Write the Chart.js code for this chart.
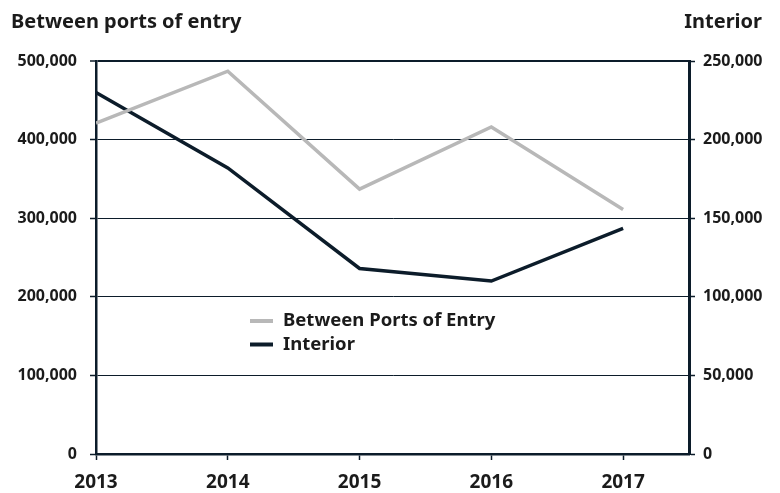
<!DOCTYPE html>
<html>
<head>
<meta charset="utf-8">
<script src="https://cdn.jsdelivr.net/npm/chart.js@4"></script>
<style>
  html, body { margin: 0; padding: 0; background: #fff; }
  #wrap { width: 780px; height: 493px; }
</style>
</head>
<body>
<div id="wrap"><canvas id="chart" width="780" height="493"></canvas></div>
<script>
const years = [2013, 2014, 2015, 2016, 2017]
const betweenPorts = [421000, 487000, 337000, 416000, 311000]
const interior = [230000, 182000, 118000, 110000, 143500]
const leftTicks = [0, 100000, 200000, 300000, 400000, 500000]
const rightTicks = [0, 50000, 100000, 150000, 200000, 250000]

const NAVY = "#0c1c2a"
const GREY = "#b8b8b8"
const TEXT = "#1b1b1b"
const FONT = "'Noto Sans', sans-serif"

const fmt = (v) => v.toLocaleString("en-US")

// titles above each y axis
const axisTitles = {
    id: "axisTitles",
    afterDraw(chart) {
        const c = chart.ctx
        c.save()
        c.fillStyle = TEXT
        c.font = `bold 20px ${FONT}`
        c.textBaseline = "alphabetic"
        c.textAlign = "left"
        c.fillText("Between ports of entry", 11, 28)
        c.textAlign = "right"
        c.fillText("Interior", 762, 28)
        c.restore()
    }
}

// legend placed inside the plot
const innerLegend = {
    id: "innerLegend",
    afterDraw(chart) {
        const c = chart.ctx
        c.save()
        c.font = `bold 18.5px ${FONT}`
        c.textBaseline = "middle"
        c.textAlign = "left"
        chart.data.datasets.forEach((ds, i) => {
            const y = 321 + i * 23.5
            c.strokeStyle = ds.borderColor
            c.lineWidth = 4
            c.beginPath()
            c.moveTo(250, y)
            c.lineTo(273, y)
            c.stroke()
            c.fillStyle = TEXT
            c.fillText(ds.label, 283, y)
        })
        c.restore()
    }
}

const ctx = document.querySelector("#chart")

new Chart(ctx, {
    type: "line",
    data: {
        datasets: [{
            label: "Between Ports of Entry",
            data: years.map((y, i) => ({x: y, y: betweenPorts[i]})),
            borderColor: GREY,
            borderWidth: 3.5,
            pointRadius: 0,
            tension: 0,
            yAxisID: "y",
        }, {
            label: "Interior",
            data: years.map((y, i) => ({x: y, y: interior[i]})),
            borderColor: NAVY,
            borderWidth: 3.5,
            pointRadius: 0,
            tension: 0,
            yAxisID: "y2",
        }]
    },
    options: {
        responsive: false,
        animation: false,
        layout: {
            padding: {top: 61, left: 0, right: 0, bottom: 0}
        },
        scales: {
            x: {
                type: "linear",
                min: 2013,
                max: 2017.5,
                afterBuildTicks: (scale) => {
                    scale.ticks = years.map(v => ({value: v}))
                },
                afterFit: (scale) => { scale.height = 39 },
                border: {color: NAVY, width: 2.5},
                grid: {
                    drawOnChartArea: false,
                    drawTicks: true,
                    tickLength: 6,
                    tickColor: NAVY,
                    tickWidth: 1.5,
                },
                ticks: {
                    padding: 11,
                    color: TEXT,
                    font: {family: FONT, size: 19, weight: "bold"},
                    callback: (v) => String(v),
                    maxRotation: 0,
                }
            },
            y: {
                position: "left",
                min: 0,
                max: 500000,
                afterBuildTicks: (scale) => {
                    scale.ticks = leftTicks.map(v => ({value: v}))
                },
                afterFit: (scale) => { scale.width = 96 },
                border: {color: NAVY, width: 2.5},
                grid: {
                    color: NAVY,
                    lineWidth: (c) => c.tick && c.tick.value === 500000 ? 2 : 1,
                    tickLength: 6,
                    tickColor: NAVY,
                    tickWidth: 1.5,
                },
                ticks: {
                    padding: 13,
                    color: TEXT,
                    font: {family: FONT, size: 16, weight: "bold"},
                    callback: (v) => fmt(v),
                }
            },
            y2: {
                position: "right",
                min: 0,
                max: 250000,
                afterBuildTicks: (scale) => {
                    scale.ticks = rightTicks.map(v => ({value: v}))
                },
                afterFit: (scale) => { scale.width = 91 },
                border: {color: NAVY, width: 3},
                grid: {
                    drawOnChartArea: false,
                    tickLength: 6,
                    tickColor: NAVY,
                    tickWidth: 1.5,
                },
                ticks: {
                    padding: 8,
                    color: TEXT,
                    font: {family: FONT, size: 16, weight: "bold"},
                    callback: (v) => fmt(v),
                }
            }
        },
        plugins: {
            legend: {display: false},
            tooltip: {enabled: false},
        }
    },
    plugins: [axisTitles, innerLegend]
})
</script>
</body>
</html>
